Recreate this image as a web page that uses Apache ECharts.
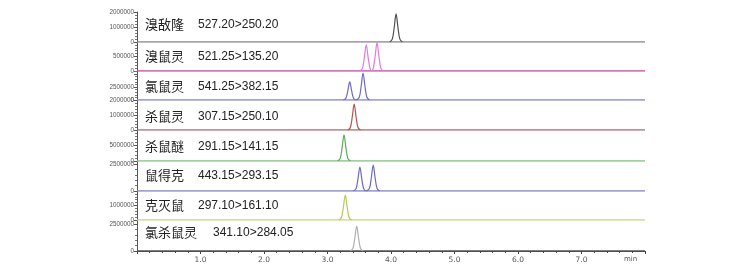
<!DOCTYPE html>
<html><head><meta charset="utf-8">
<script src="https://cdn.jsdelivr.net/npm/echarts@6/dist/echarts.min.js"></script>
<style>html,body{margin:0;padding:0;background:#fff}#c{width:756px;height:271px}</style>
</head><body><div id="c"></div>
<script>
// Compound names and MRM transitions
const names = ['溴敌隆','溴鼠灵','氯鼠灵','杀鼠灵','杀鼠醚','鼠得克','克灭鼠','氯杀鼠灵'];
const transitions = ['527.20>250.20','521.25>135.20','541.25>382.15','307.15>250.10','291.15>141.15','443.15>293.15','297.10>161.10','341.10>284.05'];
// x tick labels (retention time, min)
const xTickLabels = ['1.0','2.0','3.0','4.0','5.0','6.0','7.0'];
// y-axis ranges and shown labels per panel
const yMax = [2000000, 1000000, 5600000, 2000000, 10000000, 2780000, 2000000, 2870000];
const yInterval = [1000000, 500000, 2500000, 1000000, 5000000, 2500000, 1000000, 2500000];
const yLabels = [[0,1000000,2000000],[0,500000],[0,2500000],[0,1000000,2000000],[0,5000000],[0,2500000],[0,1000000],[0,2500000]];
// chromatogram peak points [time, intensity]
const peaks1 = [[3.98,0],[4.02,190000],[4.05,950000],[4.08,1870000],[4.11,950000],[4.14,190000],[4.18,0]];
const peaks2 = [[3.51,0],[3.55,90000],[3.58,460000],[3.61,900000],[3.64,460000],[3.67,90000],[3.70,0],[3.72,90000],[3.75,500000],[3.78,980000],[3.81,500000],[3.84,100000],[3.88,0]];
const peaks3 = [[3.25,0],[3.29,350000],[3.32,1800000],[3.35,3500000],[3.38,1800000],[3.41,350000],[3.45,0],[3.46,0],[3.50,520000],[3.53,2650000],[3.56,5200000],[3.59,2650000],[3.62,520000],[3.66,0]];
const peaks4 = [[3.32,0],[3.36,170000],[3.39,880000],[3.42,1730000],[3.45,880000],[3.48,170000],[3.52,0]];
const peaks5 = [[3.16,0],[3.20,840000],[3.23,4300000],[3.26,8400000],[3.29,4300000],[3.32,840000],[3.36,0]];
const peaks6 = [[3.41,0],[3.45,220000],[3.48,1130000],[3.51,2220000],[3.54,1130000],[3.57,220000],[3.61,0],[3.62,0],[3.66,240000],[3.69,1230000],[3.72,2410000],[3.75,1230000],[3.78,240000],[3.82,0]];
const peaks7 = [[3.18,0],[3.22,170000],[3.25,880000],[3.28,1720000],[3.31,880000],[3.34,170000],[3.38,0]];
const peaks8 = [[3.36,0],[3.40,230000],[3.43,1180000],[3.46,2310000],[3.49,1180000],[3.52,230000],[3.56,0]];
const baseline = [[0,0],[8,0]];
const allPeaks = [peaks1,peaks2,peaks3,peaks4,peaks5,peaks6,peaks7,peaks8];

const baseColors = ['#8a8a8a','#c0509c','#8686c4','#a87070','#86c086','#8484c0','#cdd58c','#555555'];
const peakColors = ['#505050','#e07ae0','#6c6cc0','#b05850','#5aac5a','#6a6ab8','#b8c860','#b0b0b0'];
const tops = [12,42,71,100,130,161,191,220];
const bottoms = [42,71,100,130,161,191,220,251];
const textY = [26,58,88,118,148,177,207,234];

const grid=[],xAxis=[],yAxis=[],series=[],graphic=[];
for(let i=0;i<8;i++){
  grid.push({left:137,right:111,top:tops[i],height:bottoms[i]-tops[i]});
  const last = i===7;
  xAxis.push({type:'value',gridIndex:i,min:0,max:8,interval:1,
    axisLine:{show:last,onZero:false,lineStyle:{color:'#444',width:1}},
    axisTick:{show:last,length:3,inside:false,lineStyle:{color:'#444'}},
    minorTick:{show:last,splitNumber:5,length:2,lineStyle:{color:'#444'}},
    splitLine:{show:false},
    axisLabel:{show:last,fontSize:7.5,color:'#555',margin:5,fontFamily:'DejaVu Sans',
      formatter:v=>{const s=v.toFixed(1);return xTickLabels.includes(s)?s:'';}},
    name:last?'min':'',nameLocation:'end',nameGap:-21,
    nameTextStyle:{fontSize:7,color:'#555',verticalAlign:'top',padding:[5,0,0,0],fontFamily:'DejaVu Sans'}
  });
  const labs = yLabels[i];
  yAxis.push({type:'value',gridIndex:i,min:0,max:yMax[i],interval:yInterval[i],
    axisLine:{show:true,lineStyle:{color:'#555',width:1}},
    axisTick:{show:true,length:3,lineStyle:{color:'#555'}},
    minorTick:{show:true,splitNumber:5,length:2,lineStyle:{color:'#777'}},
    splitLine:{show:false},
    axisLabel:{fontSize:6.3,color:'#555',margin:3,fontFamily:'Liberation Sans',showMaxLabel:true,
      formatter:v=>labs.includes(v)?String(v):''}
  });
  series.push({type:'line',xAxisIndex:i,yAxisIndex:i,data:baseline,symbol:'none',silent:true,
    lineStyle:{color:baseColors[i],width:1.5},z:2});
  series.push({type:'line',xAxisIndex:i,yAxisIndex:i,data:allPeaks[i],symbol:'none',smooth:0.35,silent:true,
    lineStyle:{color:peakColors[i],width:1.2},z:3});
  graphic.push({type:'text',left:145,top:textY[i]-8,style:{text:names[i],fontSize:13,fill:'#222',fontFamily:'Noto Sans CJK SC'}});
  graphic.push({type:'text',left:i===7?213:198,top:textY[i]-7,style:{text:transitions[i],fontSize:12,fill:'#222',fontFamily:'Liberation Sans'}});
}
const chart = echarts.init(document.getElementById('c'),null,{renderer:'canvas'});
chart.setOption({animation:false,backgroundColor:'#fff',grid,xAxis,yAxis,series,graphic});
</script></body></html>
